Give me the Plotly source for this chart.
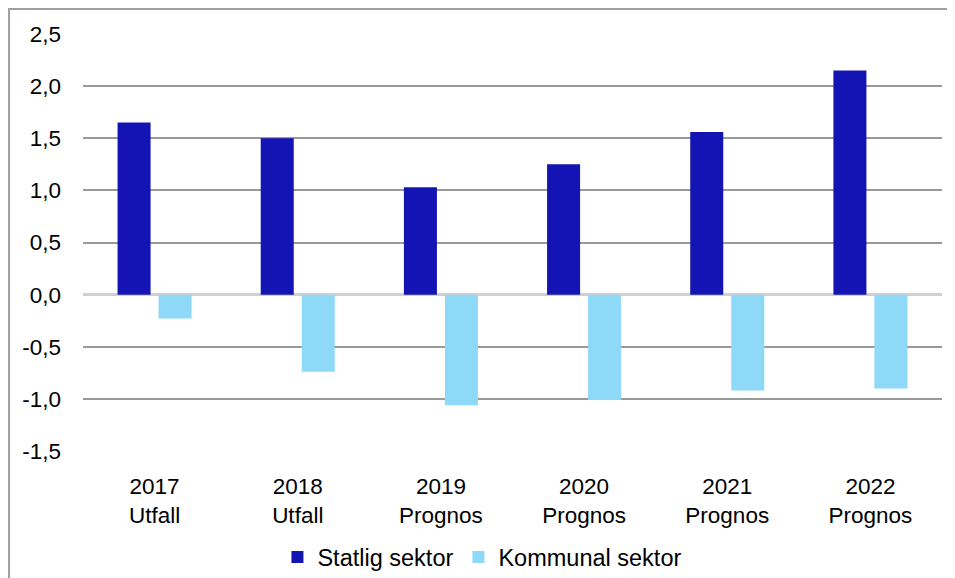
import plotly.graph_objects as go

categories = ["2017<br>Utfall", "2018<br>Utfall", "2019<br>Prognos",
              "2020<br>Prognos", "2021<br>Prognos", "2022<br>Prognos"]
statlig = [1.65, 1.50, 1.03, 1.25, 1.56, 2.15]
kommunal = [-0.23, -0.74, -1.06, -1.01, -0.92, -0.90]
ytick_vals = [-1.5, -1.0, -0.5, 0.0, 0.5, 1.0, 1.5, 2.0, 2.5]
ytick_text = ["-1,5", "-1,0", "-0,5", "0,0", "0,5", "1,0", "1,5", "2,0", "2,5"]

FONT = "Liberation Sans, Arial, sans-serif"

fig = go.Figure()
fig.add_trace(go.Bar(x=categories, y=statlig, name="Statlig sektor",
                     marker=dict(color="#1414b4", line=dict(width=0))))
fig.add_trace(go.Bar(x=categories, y=kommunal, name="Kommunal sektor",
                     marker=dict(color="#8ed8f8", line=dict(width=0))))

fig.update_layout(
    width=955, height=578,
    margin=dict(l=75, r=21, t=26, b=135, autoexpand=False),
    paper_bgcolor="white", plot_bgcolor="white",
    font=dict(family=FONT, size=22, color="#000000"),
    barmode="group", bargap=0.427, bargroupgap=0.195,
    showlegend=True,
    legend=dict(orientation="h", x=0.465, xanchor="center",
                yref="container", y=0.05, yanchor="middle",
                font=dict(size=23.5), tracegroupgap=0),
    xaxis=dict(showgrid=False, showline=False, ticks="", tickfont=dict(size=22.5),
               ticklabelstandoff=19, automargin=False),
    yaxis=dict(range=[-1.5, 2.5], tickvals=ytick_vals, ticktext=ytick_text,
               showgrid=True, gridcolor="#999999", gridwidth=1.5,
               zeroline=True, zerolinecolor="#d0d0d0", zerolinewidth=2.5,
               showline=False, ticks="", tickfont=dict(size=22.5),
               ticklabelstandoff=21, automargin=False),
    shapes=[dict(type="rect", xref="paper", yref="paper",
                 x0=-0.0861, x1=1.2, y0=-0.5, y1=1.06,
                 line=dict(color="#a0a0a0", width=2), fillcolor="rgba(0,0,0,0)",
                 layer="below")],
)

fig.write_html("out.html")
